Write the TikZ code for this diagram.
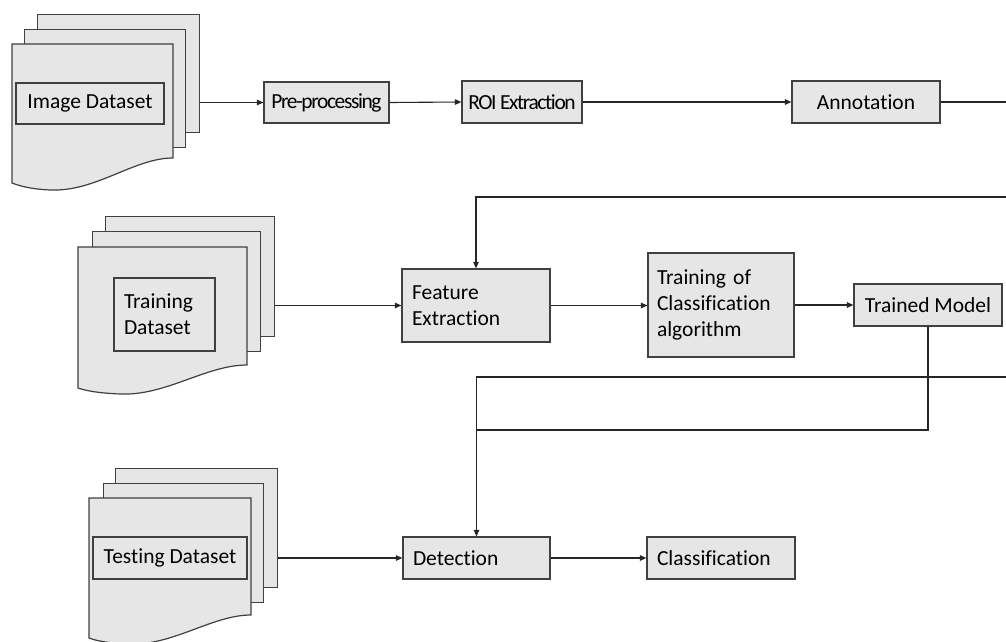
\documentclass[tikz,border=0pt]{standalone}
\usepackage{fontspec}
\setmainfont{Carlito}[Ligatures=NoCommon]
\usetikzlibrary{arrows.meta}
\definecolor{boxfill}{RGB}{231,230,230}
\definecolor{boxline}{RGB}{64,64,64}
\definecolor{wire}{RGB}{38,38,38}
\begin{document}
\begin{tikzpicture}[x=1pt,y=-1pt,
  font=\fontsize{21.5}{26}\selectfont,
  sheet/.style={draw=boxline,fill=boxfill,line width=1.2pt,anchor=north west,inner sep=0pt},
  procbox/.style={draw=boxline,fill=boxfill,line width=1.2pt,inner sep=0pt},
  tightbox/.style={procbox,font=\fontsize{21.5}{26}\selectfont\addfontfeature{LetterSpace=-6.5}},
  leftbox/.style={procbox,align=left,inner ysep=0pt},
  flow/.style={draw=wire,line width=1.1pt,-{Triangle[length=6.5pt,width=5.5pt]}},
  wireline/.style={draw=wire,line width=1.1pt}]
\useasboundingbox (0,0) rectangle (1006,642);
% image dataset stack
\node[sheet,minimum width=162pt,minimum height=118pt] (imgback) at (37,14) {};
\node[sheet,minimum width=161pt,minimum height=118pt] (imgmid) at (24,29) {};
\draw[draw=boxline,fill=boxfill,line width=1.2pt] (12,44) -- (173,44) -- (173,158)
  .. controls (134,158) and (96,192) .. (50,190)
  .. controls (30,189) and (20,186) .. (12,183) -- cycle;
\node[procbox,minimum width=148pt,minimum height=41pt] (imglab) at (90,103.5) {Image Dataset};
% training dataset stack
\node[sheet,minimum width=169pt,minimum height=120pt] (trnback) at (105,216) {};
\node[sheet,minimum width=168pt,minimum height=120pt] (trnmid) at (92,231) {};
\draw[draw=boxline,fill=boxfill,line width=1.2pt] (78,247) -- (247,247) -- (247,365)
  .. controls (206,365) and (166,396) .. (120,394)
  .. controls (98,393) and (87,391) .. (78,388) -- cycle;
\node[leftbox,text width=81pt,inner xsep=10pt,minimum height=73pt] (trnlab) at (164.5,314.5) {Training\\Dataset};
% testing dataset stack
\node[sheet,minimum width=162pt,minimum height=119pt] (tstback) at (115,468) {};
\node[sheet,minimum width=160pt,minimum height=119pt] (tstmid) at (103,483) {};
\draw[draw=boxline,fill=boxfill,line width=1.2pt] (89,498) -- (251,498) -- (251,615)
  .. controls (212,615) and (173,646) .. (128,644)
  .. controls (108,643) and (97,641) .. (89,638) -- cycle;
\node[procbox,minimum width=154pt,minimum height=42pt] (tstlab) at (170,558) {Testing Dataset};
% process boxes
\node[tightbox,minimum width=125pt,minimum height=41pt] (pre) at (326.5,102.5) {Pre-processing};
\node[tightbox,minimum width=120pt,minimum height=42pt] (roi) at (522,102) {ROI Extraction};
\node[procbox,minimum width=148pt,minimum height=42pt] (ann) at (866,102) {Annotation};
\node[leftbox,text width=128pt,inner xsep=10pt,minimum height=73pt] (fe) at (476,305.5) {Feature\\Extraction};
\node[leftbox,text width=128pt,inner xsep=9pt,minimum height=104pt] (trn) at (721,305) {Training of\\Classification\\algorithm};
\node[procbox,minimum width=148pt,minimum height=42pt] (tm) at (928,305) {Trained Model};
\node[leftbox,text width=127pt,inner xsep=10pt,minimum height=42pt] (det) at (476.5,558) {Detection};
\node[leftbox,text width=128pt,inner xsep=10pt,minimum height=42pt] (cls) at (721,558) {Classification};
% loose ends at the right edge
\coordinate (edgeA) at (1006,102);
\coordinate (edgeB) at (1006,197);
\coordinate (edgeC) at (1006,377);
\coordinate (merge) at (476.5,430);
% connectors
\draw[flow] (imgback.east |- pre.west) -- (pre.west);
\draw[flow] (pre.east) -- (roi.west);
\draw[flow] (roi.east) -- (ann.west);
\draw[wireline] (ann.east) -- (edgeA);
\draw[flow] (edgeB) -| (fe.north);
\draw[flow] (trnback.east |- fe.west) -- (fe.west);
\draw[flow] (fe.east) -- (fe.east -| trn.west);
\draw[flow] (trn.east |- tm.west) -- (tm.west);
\draw[wireline] (tm.south) |- (merge);
\draw[flow] (edgeC) -| (det.north);
\draw[flow] (tstback.east |- det.west) -- (det.west);
\draw[flow] (det.east) -- (cls.west);
\end{tikzpicture}
\end{document}
